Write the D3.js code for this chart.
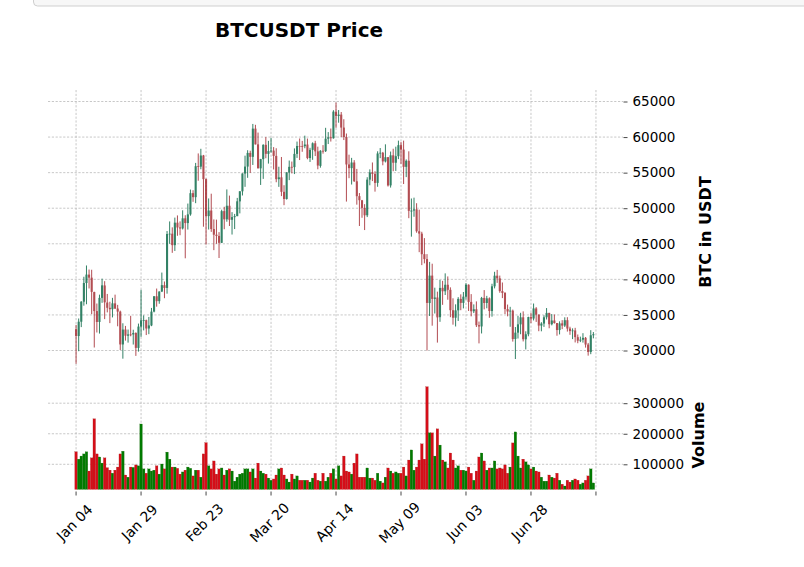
<!DOCTYPE html>
<html>
<head>
<meta charset="utf-8">
<script src="https://cdn.jsdelivr.net/npm/d3@7"></script>
<style>
body { margin: 0; background: #fff; }
text { font-family: "DejaVu Sans", sans-serif; fill: #000; }
</style>
</head>
<body>
<div id="chart"></div>
<script>
// daily BTCUSDT candles, Jan 04 .. Jul 22 (index 0..199)
var opens = [33000,32035,34047,36860,39486,40670,40240,38215,35544,34011,37393,39145,36738,36000,35806,36622,35901,35468,30851,32950,32078,32259,32251,32464,30362,33368,34246,34262,
  33092,33517,35472,37620,36936,38289,39181,38795,46374,46420,44807,47968,47298,47156,48580,47911,49133,52117,51553,55906,55842,57413,54087,48891,49676,47074,46277,46103,
  45134,49595,48436,50349,48374,48746,48882,50959,52376,54874,55851,57773,57222,61188,58976,55605,56901,58912,57641,58030,58100,57351,54083,54342,52303,51293,55025,55817,55777,57635,58753,
  58740,58720,58950,57051,58202,59129,57991,55953,58076,58020,59769,59964,59834,63576,62959,63158,61334,60006,56150,55634,56425,53788,51695,51110,50047,49005,54021,55033,54824,53556,
  57697,57797,56578,57169,53205,57436,56393,57315,58866,58240,55816,56670,49537,49671,49844,46762,46426,43538,42849,36671,40526,37253,37449,34681,38810,38324,39241,38529,35662,34606,35642,
  37254,36694,37568,39246,36829,35516,35796,33557,33380,37388,36677,37331,35546,39020,40516,40143,38349,38099,35820,35483,35601,31614,32509,33675,34663,31577,32283,34700,34494,35911,
  35045,33502,33786,34669,35288,33690,34220,33863,32875,33815,33502,34259,33086,32729,32820,31874,31384,31521,31778,30839,29791,32144];
var highs = [33600,34500,36939,40365,41950,41380,41350,38264,36600,37850,40100,39747,37950,36852,37400,37850,36415,35600,33826,33456,32944,34875,32921,32557,33783,38531,34933,34342,
  34717,35984,37662,38708,38310,40955,39700,46794,48142,47310,48678,48985,48150,49707,49010,50652,52618,52530,56368,57700,58352,57493,54183,51374,52041,48424,48394,46638,
  49790,50200,52640,51773,49448,49200,51450,52402,54895,57387,58150,58081,61844,61724,60633,56938,58980,60000,59468,59880,58589,58430,55830,57200,53230,55073,56700,56559,58405,59368,59800,
  59462,60200,59791,58492,59251,59474,58650,58153,58869,61300,60699,61200,63777,64854,63800,63520,62506,60499,57526,57076,56757,55521,52130,51166,50567,54356,55460,56428,55200,58000,
  58458,57911,58981,57200,57964,58360,58650,59500,59300,59500,56862,58000,51367,51483,50700,49795,46686,45799,43546,42451,42200,38829,38270,39920,39791,40841,40411,38877,37338,36488,37499,
  37894,38225,39476,39289,37925,36480,36900,34069,37534,38491,37680,37463,39380,41064,41330,40527,39559,38200,36457,36137,35750,33298,34881,35298,35500,32700,34749,35297,36600,36100,
  35057,33977,34945,35967,35293,35118,35059,33863,34100,34262,34666,34679,33340,33114,33185,32249,31949,32435,31899,31063,32858,32591];
var lows = [28130,29900,33288,36300,36500,38720,35111,30420,32531,32380,36701,34408,35357,33850,34650,35844,33400,30071,28850,31390,31106,32000,30837,29241,29842,31915,32825,32171,
  32296,33418,35362,36161,36570,38215,37351,37988,45000,43727,43994,46125,46202,47014,42960,47000,48947,50901,50710,53863,55477,47400,44892,47004,46674,44106,45000,43000,
  45115,47047,48100,47500,46300,47070,48882,49274,51789,53005,54272,54962,56079,58966,55600,53271,54123,57023,56270,57820,55450,53650,53000,51700,50427,51214,53950,54897,54800,57071,56769,
  57932,58428,56880,56500,56800,57333,55473,55700,57670,57903,59018,59370,59775,61301,62020,60000,59580,50931,54221,53329,53695,50500,47500,48657,46930,48753,53222,53813,52330,53013,
  57037,56035,56435,53046,52900,55200,55241,56900,56235,53400,54370,48600,46000,48799,46555,43825,42001,42250,30000,34850,33488,35200,31111,34031,36419,37800,37134,34684,33632,33379,34153,
  35666,35920,37170,35555,34800,35258,33300,31000,32396,35782,35936,34600,34757,38730,39506,38116,37365,35129,34803,33336,31251,28805,31683,32286,31275,30151,32000,33862,34225,34017,
  32711,32699,33316,34357,33125,33532,33777,32077,32261,33004,33306,32658,32203,31600,31133,31020,31179,31108,30408,29278,29482,31708];
var closes = [32031,34047,36860,39486,40670,40240,38240,35544,34011,37393,39158,36769,36000,35806,36630,35891,35468,30850,32945,32078,32259,32254,32467,30366,33364,34252,34262,33092,
  33526,35466,37618,36936,38290,39186,38795,46374,46420,44807,47969,47287,47153,48577,47911,49133,52119,51553,55906,55841,57408,54087,48891,49676,47073,46277,46106,45135,
  49587,48440,50349,48374,48751,48882,50971,52375,54884,55851,57773,57221,61188,58968,55605,56900,58912,57648,58030,58102,57351,54083,54340,52303,51293,55025,55817,55777,57635,58746,58740,
  58720,58950,57051,58202,59129,57991,56000,58076,58020,59769,59964,59834,63576,62959,63159,61334,60006,56150,55633,56425,53787,51690,51125,50047,49004,54021,55033,54824,53556,57697,
  57798,56578,57169,53200,57436,56393,57314,58862,58240,55816,56670,49631,49671,49841,46762,46431,43538,42849,36690,40526,37252,37449,34655,38796,38324,39241,38529,35663,34605,35641,37254,
  36693,37568,39246,36829,35513,35796,33552,33380,37388,36675,37331,35546,39020,40516,40144,38349,38092,35820,35483,35600,31608,32509,33678,34663,31584,32283,34700,34494,35911,35045,
  33504,33786,34669,35286,33690,34220,33863,32875,33815,33502,34259,33086,32730,32820,31880,31383,31520,31778,30839,29790,32144,32287];
var volumes = [141000,117000,127000,134000,141000,78000,121000,249000,134000,124000,104000,121000,89000,81000,71000,81000,91000,134000,143000,65000,58000,91000,90000,98000,95000,232000,85000,71000,
  85000,78000,81000,95000,68000,101000,85000,140000,117000,91000,91000,87000,68000,75000,81000,91000,87000,62000,81000,81000,58000,134000,171000,95000,85000,111000,68000,85000,
  88000,65000,81000,85000,78000,45000,58000,68000,71000,85000,85000,75000,85000,55000,104000,78000,71000,68000,55000,48000,52000,65000,85000,88000,65000,52000,42000,68000,52000,62000,48000,
  48000,48000,48000,42000,55000,71000,48000,45000,71000,45000,58000,71000,85000,52000,95000,62000,127000,78000,75000,68000,104000,134000,58000,58000,58000,88000,55000,55000,48000,71000,
  45000,39000,58000,88000,78000,71000,75000,71000,71000,91000,62000,114000,147000,81000,91000,114000,167000,117000,354000,203000,203000,127000,216000,163000,114000,108000,88000,137000,114000,88000,95000,
  81000,81000,78000,91000,71000,48000,78000,124000,137000,111000,81000,88000,88000,111000,85000,88000,85000,98000,71000,91000,170000,206000,127000,88000,117000,108000,98000,85000,91000,78000,
  75000,58000,45000,45000,65000,58000,55000,71000,48000,35000,29000,48000,42000,48000,52000,48000,35000,39000,48000,62000,85000,39000];

var tickIndex = [0, 25, 50, 75, 100, 125, 150, 175, 200];
var tickLabels = ["Jan 04", "Jan 29", "Feb 23", "Mar 20", "Apr 14", "May 09", "Jun 03", "Jun 28", ""];
var priceTicks = [30000, 35000, 40000, 45000, 50000, 55000, 60000, 65000];
var volumeTicks = [100000, 200000, 300000];

var width = 804, height = 567;
var left = 48, right = 623;
var priceTop = 90, priceBottom = 371, volTop = 373, volBottom = 489.5;

var upColor = "#006340", downColor = "#a02128";
var volUp = "#007a00", volDown = "#d50d18";

var x = d3.scaleLinear().domain([-10.8, 210.4]).range([left, right]);
var y = d3.scaleLinear().domain([30000, 65000]).range([350.5, 101.5]);
var yVol = d3.scaleLinear().domain([100000, 300000]).range([464.3, 403.2]);
var step = x(1) - x(0);

var svg = d3.select("#chart").append("svg")
    .attr("width", width)
    .attr("height", height);

// box of the page element above the figure
svg.append("rect")
    .attr("x", 33.5).attr("y", -20)
    .attr("width", 800).attr("height", 26)
    .attr("rx", 4)
    .style("fill", "#f7f7f7")
    .style("stroke", "#cfcfcf");

svg.append("text")
    .attr("x", 299).attr("y", 37)
    .attr("text-anchor", "middle")
    .style("font-size", "20px")
    .style("font-weight", "bold")
    .text("BTCUSDT Price");

var grid = svg.append("g")
    .style("stroke", "#b0b0b0")
    .style("stroke-width", 0.7)
    .style("stroke-dasharray", "2.2,1.6");

grid.selectAll(".vgrid").data(tickIndex).enter().append("line")
    .attr("x1", function (d) { return x(d); })
    .attr("x2", function (d) { return x(d); })
    .attr("y1", priceTop).attr("y2", volBottom);

grid.selectAll(".pgrid").data(priceTicks).enter().append("line")
    .attr("x1", left).attr("x2", right)
    .attr("y1", function (d) { return y(d); })
    .attr("y2", function (d) { return y(d); });

grid.selectAll(".vgrid2").data(volumeTicks).enter().append("line")
    .attr("x1", left).attr("x2", right)
    .attr("y1", function (d) { return yVol(d); })
    .attr("y2", function (d) { return yVol(d); });

// candles
var idx = d3.range(opens.length);
var candles = svg.append("g").style("opacity", 0.8);

candles.selectAll(".wick").data(idx).enter().append("line")
    .attr("x1", function (i) { return x(i); })
    .attr("x2", function (i) { return x(i); })
    .attr("y1", function (i) { return y(highs[i]); })
    .attr("y2", function (i) { return y(lows[i]); })
    .style("stroke", function (i) { return closes[i] >= opens[i] ? upColor : downColor; })
    .style("stroke-width", 1);

candles.selectAll(".body").data(idx).enter().append("rect")
    .attr("x", function (i) { return x(i) - step * 0.4; })
    .attr("width", step * 0.8)
    .attr("y", function (i) { return y(Math.max(opens[i], closes[i])); })
    .attr("height", function (i) { return Math.max(0.8, Math.abs(y(opens[i]) - y(closes[i]))); })
    .style("fill", function (i) { return closes[i] >= opens[i] ? upColor : downColor; });

// volume
svg.append("clipPath").attr("id", "volclip")
    .append("rect")
    .attr("x", left).attr("y", volTop)
    .attr("width", right - left).attr("height", volBottom - volTop);

svg.append("g").attr("clip-path", "url(#volclip)")
    .selectAll(".vol").data(idx).enter().append("rect")
    .attr("x", function (i) { return x(i) - step * 0.5; })
    .attr("width", step * 1.0)
    .attr("y", function (i) { return yVol(volumes[i]); })
    .attr("height", function (i) { return yVol(0) - yVol(volumes[i]); })
    .style("fill", function (i) { return closes[i] >= opens[i] ? volUp : volDown; })
    .style("stroke", function (i) { return closes[i] >= opens[i] ? "#2a6a1a" : "#9a3028"; })
    .style("stroke-width", 0.2);

// right axes
var axisPrice = d3.axisRight(y).tickValues(priceTicks).tickSize(4).tickPadding(5).tickFormat(d3.format("d"));
var axisVol = d3.axisRight(yVol).tickValues(volumeTicks).tickSize(4).tickPadding(5).tickFormat(d3.format("d"));

[axisPrice, axisVol].forEach(function (a) {
    var g = svg.append("g")
        .attr("transform", "translate(" + (right + 0.5) + ",0)")
        .call(a);
    g.select(".domain").remove();
    g.selectAll(".tick line").style("stroke", "#333").style("stroke-width", 0.9);
    g.selectAll(".tick text")
        .style("font-size", "13.5px")
        .style("font-family", "DejaVu Sans")
        .attr("fill", "#000");
});

svg.append("text")
    .attr("transform", "translate(711,232) rotate(-90)")
    .attr("text-anchor", "middle")
    .style("font-size", "16px")
    .style("font-weight", "bold")
    .text("BTC in USDT");

svg.append("text")
    .attr("transform", "translate(704,435) rotate(-90)")
    .attr("text-anchor", "middle")
    .style("font-size", "16px")
    .style("font-weight", "bold")
    .text("Volume");

// x ticks
var xt = svg.append("g");
xt.selectAll(".xtick").data(tickIndex).enter().append("line")
    .attr("x1", function (d) { return x(d); })
    .attr("x2", function (d) { return x(d); })
    .attr("y1", 491.5).attr("y2", 495.5)
    .style("stroke", "#333")
    .style("stroke-width", 0.9);

xt.selectAll(".xlabel").data(tickIndex).enter().append("text")
    .attr("transform", function (d) { return "translate(" + (x(d) - 1.5) + ",522.5) rotate(-45)"; })
    .attr("text-anchor", "middle")
    .attr("dy", "0.35em")
    .style("font-size", "14px")
    .text(function (d, i) { return tickLabels[i]; });
</script>
</body>
</html>
